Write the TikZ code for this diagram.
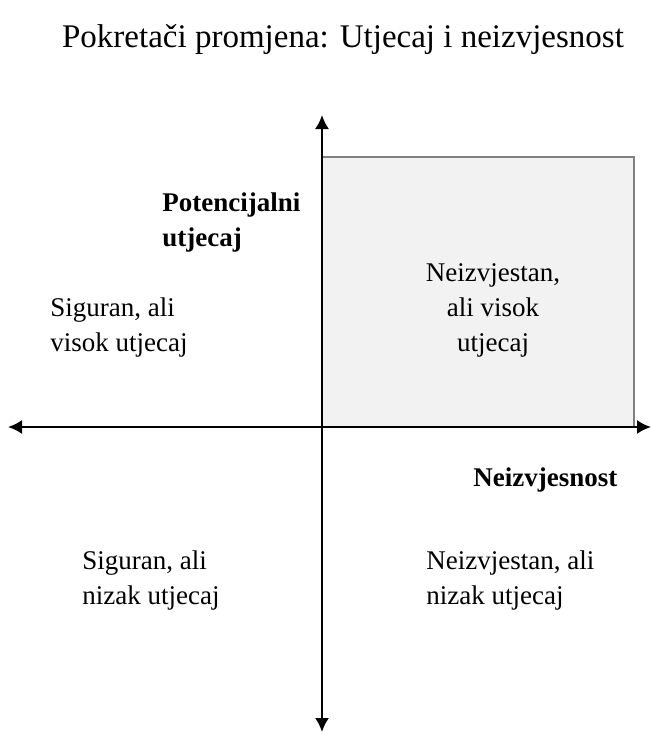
\documentclass[tikz,border=0pt]{standalone}
\usepackage{fontspec}
\setmainfont{Liberation Serif}
\usetikzlibrary{arrows.meta,positioning}

\begin{document}
\begin{tikzpicture}[
    x=0.5pt, y=-0.5pt,
    font=\fontsize{13.5}{17.5}\selectfont,
    axis/.style={draw=black, line width=1pt, {Latex[length=7pt,width=7pt]}-{Latex[length=7pt,width=7pt]}},
    quadrant/.style={draw=black!50, line width=0.8pt, fill=black!5},
    label/.style={align=left, inner sep=0pt, anchor=west},
    axislabel/.style={label, font=\fontsize{13.5}{17.5}\selectfont\bfseries}
]
\useasboundingbox (0,0) rectangle (651,734);

\node[font=\fontsize{16.5}{20}\selectfont] (title) at (343,40)
{Pokretači promjena: Utjecaj i neizvjesnost};

% shaded quadrant
\draw[quadrant] (322,157) rectangle (634,427);

% axes
\coordinate (origin) at (322,427);
\coordinate (west) at (8,427);
\coordinate (east) at (651,427);
\coordinate (north) at (322,115);
\coordinate (south) at (322,732);

\draw[axis] (west) -- (east);
\draw[axis] (south) -- (north);

\node[axislabel] (impact) at (162,222.5) {Potencijalni\\utjecaj};
\node[axislabel] (uncert) at (473,480) {Neizvjesnost};

\node[label] (certhigh) at (50,327.5) {Siguran, ali\\visok utjecaj};
\node[label, align=center, anchor=center] (unchigh) at (493,310)
{Neizvjestan,\\ali visok\\utjecaj};
\node[label] (certlow) at (82,580.5) {Siguran, ali\\nizak utjecaj};
\node[label] (unclow) at (426,580.5) {Neizvjestan, ali\\nizak utjecaj};

\end{tikzpicture}
\end{document}
